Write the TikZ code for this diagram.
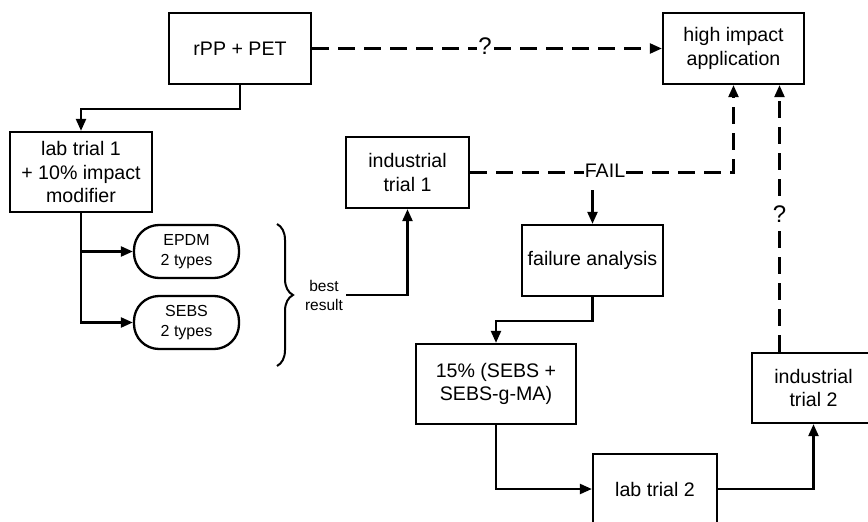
\documentclass[tikz,border=0pt]{standalone}
\usepackage{fontspec}
\setmainfont{Liberation Sans}
\usetikzlibrary{arrows.meta,decorations.pathreplacing}
\begin{document}
\begin{tikzpicture}[x=1pt,y=-1pt,
  lw/.style={line width=2.3pt},
  box/.style={draw,lw,align=center,inner sep=2pt,font=\fontsize{19.6}{23.4}\selectfont},
  pill/.style={draw,lw,rounded corners=25pt,align=center,inner sep=2pt,font=\fontsize{16}{20}\selectfont},
  arr/.style={lw,-{Triangle[length=12pt,width=10pt]}},
  dasharr/.style={lw,dash pattern=on 17pt off 9pt,-{Triangle[length=12pt,width=10pt]}},
  lbl/.style={fill=white,inner sep=1pt,font=\fontsize{19.6}{23.4}\selectfont},
  qlbl/.style={fill=white,inner sep=1pt,font=\fontsize{24}{26}\selectfont},
]
\useasboundingbox (0,0) rectangle (868,522);
\clip (0,0) rectangle (868,522);

% nodes
\node[box,minimum width=142pt,minimum height=71pt] (rpp) at (240,48.5) {rPP + PET};
\node[box,minimum width=141pt,minimum height=71pt] (hia) at (733.5,48.5) {high impact\\application};
\node[box,minimum width=142pt,minimum height=80pt] (lab1) at (81,172) {lab trial 1\\+ 10\% impact\\modifier};
\node[pill,minimum width=105pt,minimum height=53pt] (epdm) at (186.5,251.5) {EPDM\\2 types};
\node[pill,minimum width=105pt,minimum height=53pt] (sebs) at (186.5,322.5) {SEBS\\2 types};
\node[box,minimum width=123pt,minimum height=71pt] (ind1) at (407.5,172.5) {industrial\\trial 1};
\node[box,minimum width=141pt,minimum height=71pt] (fa) at (592.5,260.5) {failure analysis};
\node[box,minimum width=160pt,minimum height=80pt] (p15) at (496,384) {15\% (SEBS +\\SEBS-g-MA)};
\node[box,minimum width=124pt,minimum height=70pt] (lab2) at (655,489) {lab trial 2};
\node[box,minimum width=123pt,minimum height=70pt] (ind2) at (813.5,388) {industrial\\trial 2};
\node[align=center,inner sep=3pt,font=\fontsize{15.5}{19}\selectfont] (best) at (324,295) {best\\result};

% brace
\draw[line width=2pt,decorate,decoration={brace,amplitude=16pt,aspect=0.5}] (277,224) -- (277,366);

% solid connectors
\draw[arr] (rpp.south) -- ++(0,24) -| (lab1.north);
\draw[arr] (lab1.south) |- (epdm.west);
\draw[arr] (lab1.south) |- (sebs.west);
\draw[arr] (best.east) -| (ind1.south);
\coordinate (failpt) at (592.5,190);
\draw[arr] (failpt) -- (fa.north);
\draw[arr] (fa.south) -- ++(0,24) -| (p15.north);
\draw[arr] (p15.south) |- (lab2.west);
\draw[arr] (lab2.east) -| (ind2.south);

% dashed connectors
\draw[dasharr] (rpp.east) -- (hia.west);
\node[qlbl] (q1) at (485,46) {?};
\draw[dasharr] (ind1.east) -- (hia.south |- ind1.east) -- (hia.south);
\node[lbl] (fail) at (605,171) {FAIL};
\draw[dasharr] ([xshift=-34pt]ind2.north) -- ([xshift=-34pt]ind2.north |- hia.south);
\node[qlbl] (q2) at (779.5,214) {?};
\end{tikzpicture}
\end{document}
